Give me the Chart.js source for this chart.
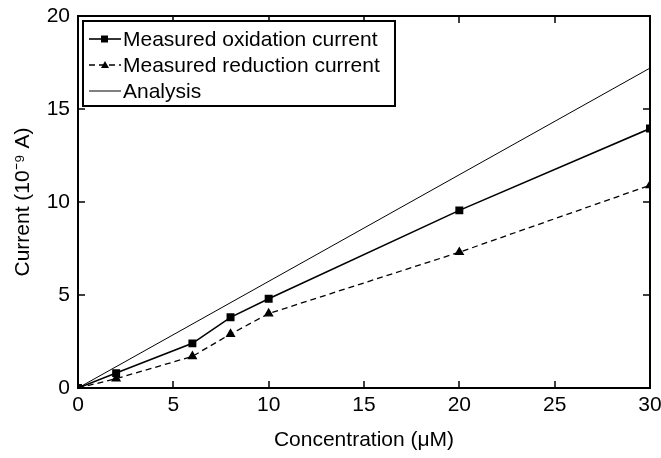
<!DOCTYPE html>
<html><head><meta charset="utf-8">
<script src="https://cdn.jsdelivr.net/npm/chart.js@4"></script>
<style>html,body{margin:0;padding:0;background:#fff}#w{width:661px;height:458px}</style>
</head><body><div id="w"><canvas id="c" width="661" height="458"></canvas></div>
<script>
const concX = [0, 2, 6, 8, 10, 20, 30];
const oxidation = [0, 0.8, 2.4, 3.8, 4.8, 9.55, 13.95];
const reduction = [0, 0.5, 1.7, 2.9, 4.0, 7.3, 10.9];
const analysisX = [0, 30];
const analysis = [0, 17.2];
const xTicks = [0, 5, 10, 15, 20, 25, 30];
const yTicks = [0, 5, 10, 15, 20];
const labels = ['Measured oxidation current', 'Measured reduction current', 'Analysis'];

const pts = (xs, ys) => xs.map((x, i) => ({x, y: ys[i]}));
const FONT = '"Liberation Sans", Arial, sans-serif';
const FS = 21;

const frame = {
  id: 'frame',
  afterDraw(chart) {
    const {ctx, chartArea: a, scales: {x, y}} = chart;
    ctx.save();
    ctx.strokeStyle = '#000';
    ctx.lineWidth = 2;
    ctx.strokeRect(a.left, a.top, a.right - a.left, a.bottom - a.top);
    ctx.lineWidth = 1.5;
    const L = 7;
    ctx.beginPath();
    xTicks.forEach(v => {
      const px = Math.round(x.getPixelForValue(v));
      ctx.moveTo(px, a.bottom); ctx.lineTo(px, a.bottom - L);
      ctx.moveTo(px, a.top); ctx.lineTo(px, a.top + L);
    });
    yTicks.forEach(v => {
      const py = Math.round(y.getPixelForValue(v));
      ctx.moveTo(a.left, py); ctx.lineTo(a.left + L, py);
      ctx.moveTo(a.right, py); ctx.lineTo(a.right - L, py);
    });
    ctx.stroke();
    // legend
    const bx = a.left + 5, by = a.top + 5, bw = 312, bh = 85;
    ctx.fillStyle = '#fff';
    ctx.fillRect(bx, by, bw, bh);
    ctx.lineWidth = 2;
    ctx.strokeRect(bx, by, bw, bh);
    ctx.font = FS + 'px ' + FONT;
    ctx.textBaseline = 'middle';
    chart.data.datasets.forEach((ds, i) => {
      const ry = by + 18 + i * 26;
      ctx.strokeStyle = '#000';
      ctx.lineWidth = ds.borderWidth;
      ctx.setLineDash(ds.borderDash || []);
      ctx.beginPath(); ctx.moveTo(bx + 6, ry); ctx.lineTo(bx + 38, ry); ctx.stroke();
      ctx.setLineDash([]);
      ctx.fillStyle = '#000';
      if (ds.pointStyle === 'rect') ctx.fillRect(bx + 18, ry - 3.5, 7, 7);
      else if (ds.pointStyle === 'triangle') {
        ctx.beginPath(); ctx.moveTo(bx + 22, ry - 4); ctx.lineTo(bx + 26, ry + 3); ctx.lineTo(bx + 18, ry + 3); ctx.closePath(); ctx.fill();
      }
      ctx.fillText(ds.label, bx + 40, ry + 1);
    });
    ctx.restore();
  }
};

new Chart(document.getElementById('c'), {
  type: 'scatter',
  data: {
    datasets: [
      {label: labels[0], data: pts(concX, oxidation), showLine: true, borderColor: '#000', backgroundColor: '#000', borderWidth: 1.6, pointStyle: 'rect', pointRadius: 4.5, pointHoverRadius: 4.5},
      {label: labels[1], data: pts(concX, reduction), showLine: true, borderColor: '#000', backgroundColor: '#000', borderWidth: 1.3, borderDash: [6, 4], pointStyle: 'triangle', pointRadius: 4.5, pointHoverRadius: 4.5},
      {label: labels[2], data: pts(analysisX, analysis), showLine: true, borderColor: '#000', backgroundColor: '#000', borderWidth: 1, pointRadius: 0}
    ]
  },
  options: {
    responsive: false, animation: false,
    layout: {padding: {top: 16, right: 11, left: 0, bottom: 0}},
    plugins: {legend: {display: false}, tooltip: {enabled: false}},
    scales: {
      x: {
        type: 'linear', min: 0, max: 30,
        afterBuildTicks: s => { s.ticks = xTicks.map(v => ({value: v})); },
        afterFit: s => { s.height = 70; s.paddingLeft = 0; s.paddingRight = 0; },
        grid: {display: false, drawTicks: false},
        border: {display: false},
        ticks: {color: '#000', font: {family: FONT, size: FS}, padding: 5},
        title: {display: true, text: 'Concentration (\u03BCM)', color: '#000', font: {family: FONT, size: FS}, padding: {top: 0, bottom: 5}}
      },
      y: {
        type: 'linear', min: 0, max: 20,
        afterBuildTicks: s => { s.ticks = yTicks.map(v => ({value: v})); },
        afterFit: s => { s.width = 78; s.paddingTop = 0; s.paddingBottom = 0; },
        grid: {display: false, drawTicks: false},
        border: {display: false},
        ticks: {color: '#000', font: {family: FONT, size: FS}, padding: 8},
        title: {display: true, text: 'Current (10\u207B\u2079 A)', color: '#000', font: {family: FONT, size: FS}, padding: {top: 11, bottom: 0}}
      }
    }
  },
  plugins: [frame]
});
</script>
</body></html>
